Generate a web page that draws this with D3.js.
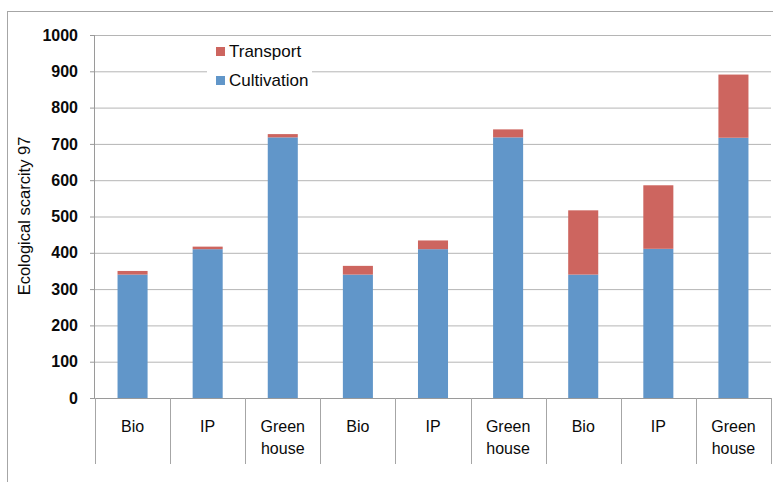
<!DOCTYPE html>
<html>
<head>
<meta charset="utf-8">
<script src="https://cdn.jsdelivr.net/npm/d3@7"></script>
<style>
  html, body { margin: 0; padding: 0; background: #fff; }
  svg { display: block; }
  text { font-family: "Liberation Sans", Arial, sans-serif; fill: #0a0a0a; }
</style>
</head>
<body>
<svg id="chart" width="773" height="482"></svg>
<script>
const categories = ["Bio", "IP", "Green house", "Bio", "IP", "Green house", "Bio", "IP", "Green house"];
const cultivation = [340, 410, 718, 340, 410, 718, 340, 411, 717];
const transport = [10, 7, 9, 24, 24, 22, 177, 175, 174];
const yTicks = [0, 100, 200, 300, 400, 500, 600, 700, 800, 900, 1000];
const seriesNames = ["Transport", "Cultivation"];
const colors = { Cultivation: "#6196c9", Transport: "#cd655f" };

const svg = d3.select("#chart");
const plotLeft = 95, plotRight = 771, plotTop = 35, plotBottom = 398;

// outer border
svg.append("rect").attr("x", 7.5).attr("y", 11.5).attr("width", 800).attr("height", 500)
  .attr("fill", "none").attr("stroke", "#a6a6a6").attr("stroke-width", 1);

const idx = categories.map((d, i) => i);
const x = d3.scaleBand().domain(idx).range([plotLeft, plotRight]).paddingInner(0.6).paddingOuter(0.3);
const y = d3.scaleLinear().domain([0, 1000]).range([plotBottom, plotTop]);

// gridlines
const grid = svg.append("g").attr("transform", `translate(${plotLeft},0)`)
  .call(d3.axisLeft(y).tickValues(yTicks).tickSize(-(plotRight - plotLeft)).tickFormat(""));
grid.select(".domain").remove();
grid.selectAll(".tick line").attr("stroke", "#b5b5b5").attr("stroke-width", 1);

// y axis
const yAxis = svg.append("g").attr("transform", `translate(${plotLeft},0)`)
  .call(d3.axisLeft(y).tickValues(yTicks).tickSize(5).tickPadding(12).tickFormat(d3.format("d")));
yAxis.select(".domain").attr("stroke", "#9a9a9a").attr("d", `M-0.5,${plotTop}V${plotBottom}`);
yAxis.selectAll(".tick line").attr("stroke", "#9a9a9a");
yAxis.selectAll(".tick text").style("font-size", "16px").style("font-weight", "bold")
  .attr("fill", "#0a0a0a").style("font-family", '"Liberation Sans", Arial, sans-serif');

// stacked bars
const stackData = categories.map((c, i) => ({ i, Cultivation: cultivation[i], Transport: transport[i] }));
const stack = d3.stack().keys(["Cultivation", "Transport"])(stackData);
svg.append("g").selectAll("g").data(stack).join("g")
  .attr("fill", d => colors[d.key])
  .selectAll("rect").data(d => d).join("rect")
  .attr("x", d => x(d.data.i))
  .attr("width", x.bandwidth())
  .attr("y", d => y(d[1]))
  .attr("height", d => y(d[0]) - y(d[1]));

// x axis line and separators
svg.append("line").attr("x1", plotLeft).attr("x2", plotRight).attr("y1", plotBottom + 0.5).attr("y2", plotBottom + 0.5)
  .attr("stroke", "#9a9a9a");
const step = x.step();
const seps = d3.range(categories.length + 1).map(i => plotLeft + i * step);
svg.append("g").selectAll("line").data(seps).join("line")
  .attr("x1", d => Math.round(d) + 0.5).attr("x2", d => Math.round(d) + 0.5)
  .attr("y1", plotBottom).attr("y2", 464)
  .attr("stroke", "#a6a6a6");

// category labels
const lab = svg.append("g").selectAll("text").data(idx).join("text")
  .attr("x", i => x(i) + x.bandwidth() / 2)
  .attr("y", 431.5)
  .attr("text-anchor", "middle")
  .style("font-size", "16px");
lab.each(function (i) {
  const words = categories[i].split(" ");
  d3.select(this).selectAll("tspan").data(words).join("tspan")
    .attr("x", x(i) + x.bandwidth() / 2)
    .attr("dy", (w, k) => k === 0 ? 0 : 22)
    .text(w => w);
});

// y title
svg.append("text")
  .attr("transform", "translate(30,216) rotate(-90)")
  .attr("text-anchor", "middle")
  .style("font-size", "16.5px")
  .text("Ecological scarcity 97");

// legend
svg.append("rect").attr("x", 207).attr("y", 38).attr("width", 105).attr("height", 52).attr("fill", "#fff");
const leg = svg.append("g").selectAll("g").data(seriesNames).join("g")
  .attr("transform", (d, k) => `translate(216,${47 + k * 29})`);
leg.append("rect").attr("width", 9).attr("height", 9).attr("fill", d => colors[d]);
leg.append("text").attr("x", 13).attr("y", 9.5).style("font-size", "17px").text(d => d);
</script>
</body>
</html>
